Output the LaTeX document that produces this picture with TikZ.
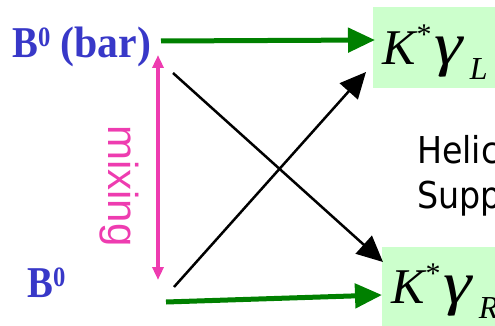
\documentclass[tikz,border=0pt]{standalone}
\usepackage{fontspec}
\setmainfont{Liberation Serif}
\newfontfamily\arialf{Liberation Sans}
\newfontfamily\tahf{DejaVu Sans}
\usetikzlibrary{arrows.meta}
\definecolor{bblue}{HTML}{3838C8}
\definecolor{agreen}{HTML}{008000}
\definecolor{boxgreen}{HTML}{CCFFCC}
\definecolor{mixpink}{HTML}{EE3CB0}
\newcommand\kgam[1]{\fontsize{50}{50}\selectfont\itshape K\kern1pt\raisebox{20pt}{\upshape\fontsize{30}{30}\selectfont *}\kern3pt\scalebox{1.2}[1]{\fontsize{60}{60}\selectfont γ}\kern7pt\raisebox{-15pt}{\fontsize{32}{32}\selectfont #1}}
\newcommand\bzero{\scalebox{0.88}[1]{\fontsize{44}{44}\selectfont\bfseries B\raisebox{11pt}{\fontsize{28}{28}\selectfont 0}}}
\begin{document}
\begin{tikzpicture}[x=1pt,y=-1pt,
  btext/.style={text=bblue,inner sep=0pt,anchor=base west},
  kbox/.style={fill=boxgreen,draw=none,anchor=north west,inner sep=0pt},
  klabel/.style={inner sep=0pt,anchor=base west},
  greenarrow/.style={draw=agreen,line width=5pt,-{Triangle[length=27pt,width=24pt]}},
  blackarrow/.style={draw=black,line width=2.5pt,-{Triangle[length=26pt,width=24pt]}},
  mixarrow/.style={draw=mixpink,line width=3.5pt,{Triangle[length=13pt,width=11pt]}-{Triangle[length=13pt,width=11pt]}},
  helic/.style={inner sep=0pt,anchor=base west,font=\tahf\fontsize{37}{37}\selectfont}]
\useasboundingbox (0,0) rectangle (495,326);
\clip (0,0) rectangle (495,326);
% boxes
\node[kbox,minimum width=140pt,minimum height=81pt] (boxL) at (373,7) {};
\node[kbox,minimum width=130pt,minimum height=80pt] (boxR) at (382,247) {};
% labels
\node[klabel] (kgL) at (382,65) {\kgam{L}};
\node[klabel] (kgR) at (391,303) {\kgam{R}};
\node[btext] (bbar) at (12,58) {\bzero\scalebox{0.95}[1]{\fontsize{44}{44}\selectfont\bfseries\ (bar)}};
\node[btext] (b0) at (27,297) {\bzero};
\node[helic] (hel) at (417,164) {\scalebox{0.9}[1]{Helic}};
\node[helic] (sup) at (417,208) {\scalebox{0.9}[1]{Supp}};
\node[text=mixpink,inner sep=0pt,anchor=base west,rotate=-90,font=\arialf\fontsize{42}{42}\selectfont] (mix) at (108,125) {mixing};
% coordinates
\coordinate (g1s) at (161,41);
\coordinate (g1e) at (375,40);
\coordinate (g2s) at (166,302);
\coordinate (g2e) at (382,295);
\coordinate (k1s) at (173,73);
\coordinate (k1e) at (383,262);
\coordinate (k2s) at (174,287);
\coordinate (k2e) at (366,72);
\coordinate (m1) at (158,55);
\coordinate (m2) at (158,280);
% arrows
\draw[greenarrow] (g1s) -- (g1e);
\draw[greenarrow] (g2s) -- (g2e);
\draw[blackarrow] (k1s) -- (k1e);
\draw[blackarrow] (k2s) -- (k2e);
\draw[mixarrow] (m1) -- (m2);
\end{tikzpicture}
\end{document}
